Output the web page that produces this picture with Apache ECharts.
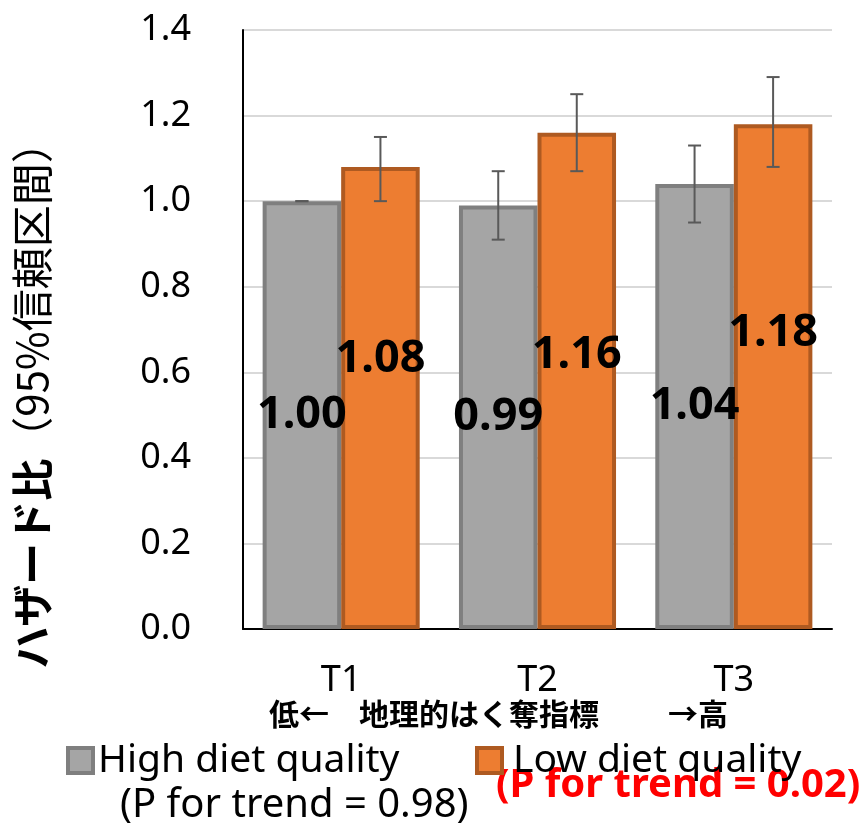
<!DOCTYPE html>
<html>
<head>
<meta charset="utf-8">
<script src="https://cdn.jsdelivr.net/npm/echarts@6/dist/echarts.min.js"></script>
<style>html,body{margin:0;padding:0;background:#fff}#c{width:868px;height:829px}</style>
</head>
<body>
<div id="c"></div>
<script>
// ---- data ----
const categories = ['T1', 'T2', 'T3'];
const highQuality = [1.00, 0.99, 1.04];
const highLower = [1.00, 0.91, 0.95];
const highUpper = [1.00, 1.07, 1.13];
const lowQuality = [1.08, 1.16, 1.18];
const lowLower = [1.00, 1.07, 1.08];
const lowUpper = [1.15, 1.25, 1.29];
const yTicks = [0, 0.2, 0.4, 0.6, 0.8, 1.0, 1.2, 1.4];
const seriesNames = ['High diet quality', 'Low diet quality'];
const trendTexts = ['(P for trend = 0.98)', '(P for trend = 0.02)'];

// label vertical shift (px) for the orange bars' value labels
const lowLabelShift = [-39, -26, -43];

const LATIN = '"Noto Sans", "Noto Sans CJK JP", sans-serif';
const CJK = '"Noto Sans CJK JP", "Noto Sans", sans-serif';

const chart = echarts.init(document.getElementById('c'), null, {renderer: 'canvas'});

function errData(lo, hi) {
  return categories.map((c, i) => [i, lo[i], hi[i]]);
}
function errSeries(lo, hi, side) {
  return {
    type: 'custom',
    data: errData(lo, hi),
    encode: {x: 0, y: [1, 2]},
    z: 10,
    silent: true,
    renderItem: function (params, api) {
      const c = api.value(0);
      const band = api.size([1, 0])[0];
      const off = side * band * 0.2;
      const pLo = api.coord([c, api.value(1)]);
      const pHi = api.coord([c, api.value(2)]);
      const x = pLo[0] + off;
      const hw = 6.5;
      const st = {stroke: '#595959', lineWidth: 2};
      return {
        type: 'group',
        children: [
          {type: 'line', shape: {x1: x, y1: pLo[1], x2: x, y2: pHi[1]}, style: st},
          {type: 'line', shape: {x1: x - hw, y1: pHi[1], x2: x + hw, y2: pHi[1]}, style: st},
          {type: 'line', shape: {x1: x - hw, y1: pLo[1], x2: x + hw, y2: pLo[1]}, style: st}
        ]
      };
    }
  };
}

const labelBase = {
  show: true,
  position: 'inside',
  color: '#000',
  fontSize: 45,
  fontWeight: 'bold',
  fontFamily: LATIN,
  formatter: p => Number(p.value).toFixed(2)
};

const option = {
  animation: false,
  backgroundColor: '#fff',
  textStyle: {fontFamily: LATIN},
  grid: {left: 243, right: 36, top: 30, bottom: 200, containLabel: false, outerBoundsMode: 'none'},
  xAxis: {
    type: 'category',
    data: categories,
    axisLine: {show: true, lineStyle: {color: '#000', width: 2}},
    axisTick: {show: false},
    axisLabel: {fontSize: 36, color: '#000', margin: 34, fontFamily: LATIN},
    splitLine: {show: false}
  },
  yAxis: {
    type: 'value',
    min: 0, max: 1.4, interval: 0.2,
    axisLine: {show: true, lineStyle: {color: '#000', width: 2}},
    axisTick: {show: false},
    axisLabel: {fontSize: 36, color: '#000', margin: 52, fontFamily: LATIN,
      formatter: v => {
        const t = yTicks.find(k => Math.abs(k - v) < 1e-6);
        return (t !== undefined ? t : v).toFixed(1);
      }},
    splitLine: {show: true, lineStyle: {color: '#d9d9d9', width: 2}}
  },
  legend: [
    {
      left: 66, top: 741, padding: 0, itemWidth: 25, itemHeight: 25, icon: 'rect',
      textStyle: {fontSize: 39, color: '#000', fontFamily: LATIN},
      data: [{name: seriesNames[0], itemStyle: {color: '#a5a5a5', borderColor: '#7f7f7f', borderWidth: 4}}]
    },
    {
      left: 475, top: 741, padding: 0, itemWidth: 25, itemHeight: 25, icon: 'rect',
      textStyle: {fontSize: 39, color: '#000', fontFamily: LATIN, padding: [0, 0, 0, 6]},
      data: [{name: seriesNames[1], itemStyle: {color: '#ed7d31', borderColor: '#ae5a21', borderWidth: 4}}]
    }
  ],
  series: [
    {
      name: seriesNames[0],
      type: 'bar',
      data: highQuality,
      barGap: '0%',
      barCategoryGap: '20%',
      itemStyle: {color: '#a5a5a5', borderColor: '#7f7f7f', borderWidth: 4},
      label: labelBase,
      z: 2
    },
    {
      name: seriesNames[1],
      type: 'bar',
      data: lowQuality.map((v, i) => ({value: v, label: {offset: [0, lowLabelShift[i]]}})),
      barGap: '0%',
      barCategoryGap: '20%',
      itemStyle: {color: '#ed7d31', borderColor: '#ae5a21', borderWidth: 4},
      label: labelBase,
      z: 2
    },
    errSeries(highLower, highUpper, -1),
    errSeries(lowLower, lowUpper, 1)
  ],
  graphic: [
    {
      type: 'text', x: 32, y: 395, rotation: Math.PI / 2,
      style: {
        text: '{b|ハザード比}{n|（95%信頼区間）}',
        align: 'center', verticalAlign: 'middle',
        rich: {
          b: {fontSize: 42, fontWeight: 'bold', fontFamily: CJK, fill: '#000', color: '#000'},
          n: {fontSize: 42, fontWeight: 'normal', fontFamily: CJK, fill: '#000', color: '#000'}
        }
      }
    },
    {type: 'text', x: 269, y: 714, style: {text: '低←', font: 'bold 30px ' + CJK, fill: '#000', align: 'left', verticalAlign: 'middle'}},
    {type: 'text', x: 479, y: 714, style: {text: '地理的はく奪指標', font: 'bold 30px ' + CJK, fill: '#000', align: 'center', verticalAlign: 'middle'}},
    {type: 'text', x: 728, y: 714, style: {text: '→高', font: 'bold 30px ' + CJK, fill: '#000', align: 'right', verticalAlign: 'middle'}},
    {type: 'text', x: 120, y: 806, style: {text: trendTexts[0], font: '40px ' + LATIN, fill: '#000', align: 'left', verticalAlign: 'middle'}},
    {type: 'text', x: 496, y: 786, style: {text: trendTexts[1], font: 'bold 40px ' + LATIN, fill: '#ff0000', align: 'left', verticalAlign: 'middle'}}
  ]
};
chart.setOption(option);
</script>
</body>
</html>
